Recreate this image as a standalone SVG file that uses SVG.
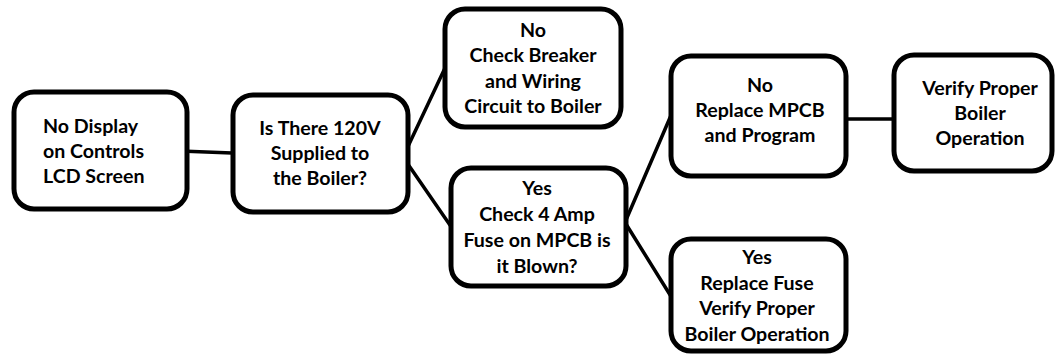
<svg xmlns="http://www.w3.org/2000/svg" width="1055" height="355" viewBox="0 0 1055 355">
<style>
.box{fill:#fff;stroke:#000;stroke-width:5}
.t{font-family:Lato,"Open Sans","Liberation Sans",sans-serif;font-weight:700;font-size:19.6px;fill:#000;text-anchor:middle}
.l{text-anchor:start}
.c{stroke:#000;stroke-width:3.5;fill:none;stroke-linecap:round}
</style>
<rect width="1055" height="355" fill="#fff"/>
<g id="connectors">
<line class="c" x1="180" y1="151" x2="232" y2="153"/>
<line class="c" x1="403" y1="157" x2="445" y2="68"/>
<line class="c" x1="403" y1="157" x2="452" y2="228"/>
<line class="c" x1="626" y1="220" x2="672" y2="113"/>
<line class="c" x1="626" y1="224" x2="672" y2="298"/>
<line class="c" x1="842" y1="119" x2="895" y2="119"/>
</g>
<g id="n1">
<rect class="box" x="14" y="92" width="173" height="117" rx="20"/>
<text class="t l" x="43" y="133">No Display</text>
<text class="t l" x="43" y="158">on Controls</text>
<text class="t l" x="43" y="183">LCD Screen</text>
</g>
<g id="n2">
<rect class="box" x="233" y="95" width="175" height="117" rx="20"/>
<text class="t" x="320" y="135">Is There 120V</text>
<text class="t" x="320" y="160">Supplied to</text>
<text class="t" x="320" y="185">the Boiler?</text>
</g>
<g id="n3">
<rect class="box" x="445" y="9" width="176" height="118" rx="20"/>
<text class="t" x="533" y="37">No</text>
<text class="t" x="533" y="62">Check Breaker</text>
<text class="t" x="533" y="88">and Wiring</text>
<text class="t" x="533" y="113">Circuit to Boiler</text>
</g>
<g id="n4">
<rect class="box" x="451" y="168" width="175" height="118" rx="20"/>
<text class="t" x="537" y="195">Yes</text>
<text class="t" x="537" y="221">Check 4 Amp</text>
<text class="t" x="537" y="247">Fuse on MPCB is</text>
<text class="t" x="537" y="273">it Blown?</text>
</g>
<g id="n5">
<rect class="box" x="671" y="56" width="175" height="120" rx="20"/>
<text class="t" x="760" y="92">No</text>
<text class="t" x="760" y="117">Replace MPCB</text>
<text class="t" x="760" y="142">and Program</text>
</g>
<g id="n6">
<rect class="box" x="894" y="55" width="158" height="116" rx="20"/>
<text class="t" x="980" y="95">Verify Proper</text>
<text class="t" x="980" y="120">Boiler</text>
<text class="t" x="980" y="145">Operation</text>
</g>
<g id="n7">
<rect class="box" x="671" y="239" width="175" height="112" rx="20"/>
<text class="t" x="757" y="264">Yes</text>
<text class="t" x="757" y="290">Replace Fuse</text>
<text class="t" x="757" y="315">Verify Proper</text>
<text class="t" x="757" y="341">Boiler Operation</text>
</g>
</svg>
